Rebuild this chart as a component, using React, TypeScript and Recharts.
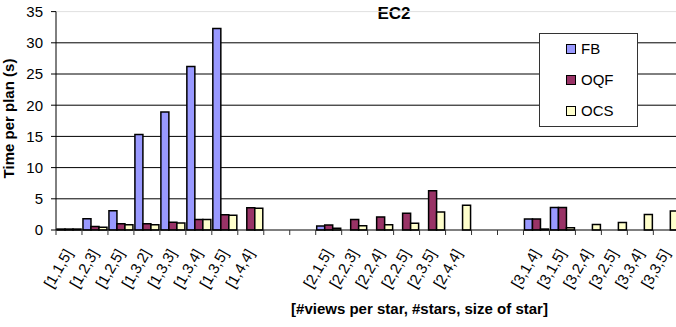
import { Bar, BarChart, CartesianGrid, Legend, ReferenceLine, XAxis, YAxis } from "recharts";

const categories = [
	"[1,1,5]", "[1,2,3]", "[1,2,5]", "[1,3,2]", "[1,3,3]", "[1,3,4]", "[1,3,5]", "[1,4,4]",
	" ", "  ",
	"[2,1,5]", "[2,2,3]", "[2,2,4]", "[2,2,5]", "[2,3,5]", "[2,4,4]",
	"   ", "    ",
	"[3,1,4]", "[3,1,5]", "[3,2,4]", "[3,2,5]", "[3,3,4]", "[3,3,5]",
];
const fbValues = [0.15, 1.8, 3.1, 15.3, 18.9, 26.2, 32.3, 0, 0, 0, 0.65, 0, 0, 0, 0, 0, 0, 0, 1.76, 3.6, 0, 0, 0, 0];
const oqfValues = [0.15, 0.55, 1.0, 1.0, 1.23, 1.7, 2.45, 3.57, 0, 0, 0.8, 1.7, 2.1, 2.7, 6.3, 0, 0, 0, 1.76, 3.6, 0, 0, 0, 0];
const ocsValues = [0.15, 0.45, 0.85, 0.85, 1.12, 1.7, 2.35, 3.5, 0, 0, 0.3, 0.7, 0.85, 1.1, 2.9, 3.95, 0, 0, 0.15, 0.35, 0.9, 1.2, 2.5, 3.05];
const yTicks = [0, 5, 10, 15, 20, 25, 30, 35];

const series = [
	{ key: "FB", color: "#9999FF" },
	{ key: "OQF", color: "#993366" },
	{ key: "OCS", color: "#FFFFCC" },
];

const data = categories.map((cat, i) => ({
	cat,
	FB: fbValues[i],
	OQF: oqfValues[i],
	OCS: ocsValues[i],
}));

const FONT = "'Liberation Sans', Arial, sans-serif";
const PLOT_LEFT = 56;
const PLOT_RIGHT = 679.3;
const STEP = (PLOT_RIGHT - PLOT_LEFT) / categories.length;

function XTick({ x, y, payload, index }: any) {
	const lx = x - STEP / 2;
	const isLast = index === categories.length - 1;
	return (
		<g>
			<line x1={lx} x2={lx} y1={y - 5} y2={y} stroke="#333" />
			{isLast && <line x1={lx + STEP} x2={lx + STEP} y1={y - 5} y2={y} stroke="#333" />}
			<text
				x={x + 4}
				y={y + 18}
				textAnchor="end"
				fontSize={15}
				fill="#000"
				fontFamily={FONT}
				transform={`rotate(-60, ${x + 4}, ${y + 18})`}
			>
				{payload.value.trim()}
			</text>
		</g>
	);
}

function LegendBox() {
	return (
		<div
			style={{
				boxSizing: "border-box",
				width: 99,
				height: 94,
				border: "1px solid #333",
				background: "#fff",
				position: "relative",
				fontFamily: FONT,
				fontSize: 15,
				color: "#000",
			}}
		>
			{series.map((s, i) => (
				<div key={s.key} style={{ position: "absolute", left: 26, top: 15 + i * 31 - 6 }}>
					<div
						style={{
							position: "absolute",
							left: 0,
							top: 1,
							width: 10,
							height: 10,
							boxSizing: "border-box",
							border: "1.5px solid #000",
							background: s.color,
						}}
					/>
					<span style={{ position: "absolute", left: 15, top: -3, lineHeight: "17px", whiteSpace: "nowrap" }}>
						{s.key}
					</span>
				</div>
			))}
		</div>
	);
}

export default function App() {
	return (
		<div style={{ position: "fixed", left: 0, top: 0, width: 676, height: 327, overflow: "hidden", background: "#fff" }}>
			<BarChart
				width={690}
				height={327}
				data={data}
				margin={{ top: 11.6, right: 690 - PLOT_RIGHT, bottom: 0, left: 0 }}
				barGap={0}
				barCategoryGap={1}
				style={{ fontFamily: FONT }}
			>
				<CartesianGrid vertical={false} horizontalValues={[5, 10, 15, 20, 25, 30]} stroke="#000" />
				<ReferenceLine y={35} stroke="#e0e0e0" />
				<XAxis
					dataKey="cat"
					interval={0}
					height={97}
					tickSize={5}
					tickMargin={0}
					tickLine={false}
					axisLine={{ stroke: "#000" }}
					tick={<XTick />}
				/>
				<YAxis
					domain={[0, 35]}
					ticks={yTicks}
					width={PLOT_LEFT}
					tickSize={5}
					tickMargin={8}
					axisLine={{ stroke: "#000" }}
					tickLine={{ stroke: "#000" }}
					tick={{ fontSize: 15, fill: "#000", fontFamily: FONT }}
				/>
				<Legend
					layout="vertical"
					align="center"
					verticalAlign="middle"
					wrapperStyle={{ left: 539, top: 33, width: 99, height: 94 }}
					content={<LegendBox />}
				/>
				{series.map((s) => (
					<Bar key={s.key} dataKey={s.key} fill={s.color} stroke="#000" strokeWidth={1.5} isAnimationActive={false} />
				))}
				<text x={394} y={19} textAnchor="middle" fontWeight="bold" fontSize={17} fontFamily={FONT} fill="#000">
					EC2
				</text>
				<text
					x={14}
					y={118.5}
					textAnchor="middle"
					fontWeight="bold"
					fontSize={15}
					fontFamily={FONT}
					fill="#000"
					transform="rotate(-90, 14, 118.5)"
				>
					Time per plan (s)
				</text>
				<text x={419.5} y={313.5} textAnchor="middle" fontWeight="bold" fontSize={15} fontFamily={FONT} fill="#000">
					[#views per star, #stars, size of star]
				</text>
			</BarChart>
		</div>
	);
}
